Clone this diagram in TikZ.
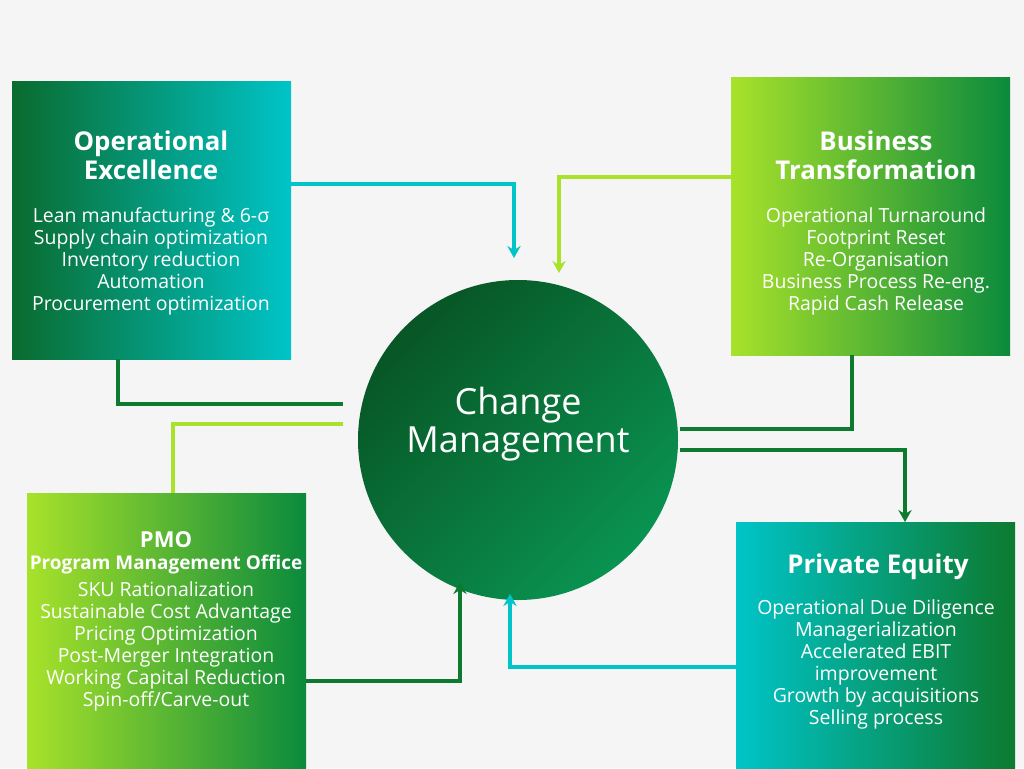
\documentclass[tikz,border=0pt]{standalone}
\usepackage{fontspec}
\setmainfont{Open Sans}
\usetikzlibrary{arrows.meta}
\begin{document}
\begin{tikzpicture}[x=0.75pt,y=-0.75pt,
 ttl/.style={font=\fontsize{19.4}{22}\selectfont\bfseries},
 bd/.style={font=\fontsize{14.6}{16.5}\selectfont},
 ln/.style={line width=2.6pt},
 arr/.style={ln,-{Stealth[length=9pt,width=10pt,inset=3pt]}}]
\definecolor{dg}{HTML}{0A6B2E}\definecolor{cy}{HTML}{00C4C8}
\definecolor{lm}{HTML}{A8E22A}\definecolor{gr}{HTML}{0B8A3C}
\definecolor{dk}{HTML}{0D7A2F}
\fill[white!96!black] (0,0) rectangle (1024,768);
\useasboundingbox (0,0) rectangle (1024,768);
\shade[left color=dg,right color=cy] (12,81) rectangle (291,359);
\shade[left color=lm,right color=gr] (731,77) rectangle (1010,355);
\shade[left color=lm,right color=gr] (27,493) rectangle (306,768);
\shade[left color=cy,right color=dk] (736,522) rectangle (1015,768);
\node[text=white,align=center,ttl] (oet) at (151,155) {Operational\\Excellence};
\node[text=white,align=center,bd] (oeb) at (151,261) {Lean manufacturing \& 6-σ\\Supply chain optimization\\Inventory reduction\\Automation\\Procurement optimization};
\node[text=white,align=center,ttl] (btt) at (876,155) {Business\\Transformation};
\node[text=white,align=center,bd] (btb) at (876,261) {Operational Turnaround\\Footprint Reset\\Re-Organisation\\Business Process Re-eng.\\Rapid Cash Release};
\node[text=white,font=\fontsize{16.5}{19}\selectfont\bfseries] (pmt) at (166,540) {PMO};
\node[text=white,font=\fontsize{14.2}{16}\selectfont\bfseries] (pms) at (166,565) {Program Management Office};
\node[text=white,align=center,bd] (pmb) at (166,646) {SKU Rationalization\\Sustainable Cost Advantage\\Pricing Optimization\\Post-Merger Integration\\Working Capital Reduction\\Spin-off/Carve-out};
\node[text=white,align=center,ttl] (pet) at (878,567) {Private Equity};
\node[text=white,align=center,bd] (peb) at (876,664) {Operational Due Diligence\\Managerialization\\Accelerated EBIT\\improvement\\Growth by acquisitions\\Selling process};
\shade[left color=dg!80!black,right color=gr!85!cy,shading angle=45] (518,440) circle (160);
\node[text=white,align=center,font=\fontsize{27}{29}\selectfont] (cm) at (518,424) {Change\\Management};
\coordinate (a1) at (514,258);\coordinate (a2) at (559,273);
\draw[arr,cy] (291,184) -| (a1);
\draw[arr,lm] (731,177) -| (a2);
\draw[ln,dk] (118,359) |- (343,404);
\draw[ln,lm] (173,493) |- (343,424);
\draw[ln,dk] (852,355) |- (680,429);
\draw[arr,dk] (680,450) -| (905,522);
\draw[arr,dk] (306,681) -| (460,582);
\draw[arr,cy] (736,667) -| (510,594);
\end{tikzpicture}
\end{document}
